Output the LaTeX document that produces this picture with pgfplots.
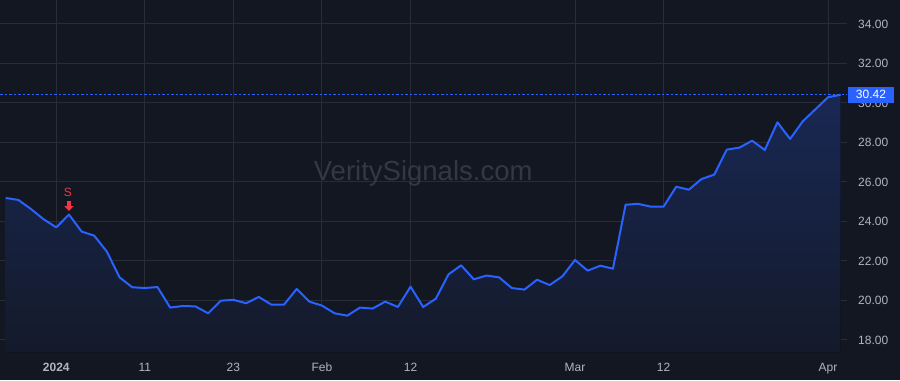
\documentclass[border=0pt]{standalone}
\usepackage{pgfplots}
\pgfplotsset{compat=1.18}
\usepgfplotslibrary{fillbetween}
\usetikzlibrary{arrows.meta}
\usepackage{fontspec}
\setmainfont{Liberation Sans}
\definecolor{bg}{RGB}{19,23,34}
\definecolor{gridc}{RGB}{40,44,56}
\definecolor{tvblue}{RGB}{41,98,255}
\definecolor{txt}{RGB}{178,181,190}
\definecolor{tvred}{RGB}{242,54,69}
\definecolor{areatop}{RGB}{25,40,84}
\definecolor{areabot}{RGB}{20,26,42}
\definecolor{wm}{RGB}{52,56,68}

\pgfplotstableread{
i v
-4 25.19
-3 25.09
-2 24.63
-1 24.11
0 23.70
1 24.35
2 23.49
3 23.28
4 22.47
5 21.17
6 20.67
7 20.63
8 20.68
9 19.64
10 19.72
11 19.70
12 19.35
13 19.99
14 20.03
15 19.86
16 20.18
17 19.79
18 19.79
19 20.58
20 19.94
21 19.74
22 19.35
23 19.23
24 19.64
25 19.59
26 19.94
27 19.67
28 20.70
29 19.67
30 20.09
31 21.32
32 21.78
33 21.07
34 21.26
35 21.17
36 20.63
37 20.55
38 21.05
39 20.78
40 21.22
41 22.05
42 21.51
43 21.76
44 21.61
45 24.85
46 24.89
47 24.75
48 24.75
49 25.76
50 25.61
51 26.15
52 26.37
53 27.64
54 27.74
55 28.09
56 27.62
57 29.02
58 28.18
59 29.07
60 29.68
61 30.29
62 30.42
}\pricedata

\begin{document}
\pagecolor{bg}%
\begin{tikzpicture}[x=1bp,y=1bp]
\begin{axis}[
  at={(0,0)}, anchor=south west,
  width=847bp, height=352bp, scale only axis,
  xmin=-4.45, xmax=62.5, ymin=17.39, ymax=35.215,
  axis line style={draw=none},
  clip mode=individual,
  xtick={0,7,14,21,28,41,48,61},
  xticklabels={\textbf{2024},11,23,Feb,12,Mar,12,Apr},
  ytick={18,20,...,34},
  yticklabel pos=right,
  yticklabel={\pgfmathprintnumber[fixed,fixed zerofill,precision=2]{\tick}},
  /pgf/number format/assume math mode=true,
  grid=major,
  major grid style={draw=gridc, line width=1bp},
  major tick length=0pt,
  tick label style={font=\fontsize{12bp}{14bp}\selectfont, text=txt, inner sep=0pt},
  xticklabel style={anchor=base, yshift=-19bp},
  yticklabel style={anchor=base west, xshift=11bp, yshift=-4.3bp},
]
\addplot[name path=price, draw=none, forget plot] table[x=i, y=v] {\pricedata};
\addplot[name path=base, draw=none, forget plot] coordinates {(-4,17.39) (62,17.39)};
\addplot[top color=areatop, bottom color=areabot, draw=none] fill between[of=price and base];

\node[anchor=base, text=wm, font=\fontsize{27.5bp}{30bp}\selectfont] at (axis cs:29,26.073) {VeritySignals.com};

\addplot[tvblue, line width=1bp, dash pattern=on 2.5bp off 2bp] coordinates {(-4.45,30.42) (62.5,30.42)};
\addplot[tvblue, line width=2bp, line join=round] table[x=i, y=v] {\pricedata};

\node[text=tvred, font=\fontsize{12bp}{14bp}\selectfont, inner sep=0pt] at (axis cs:0.92,25.49) {S};
\draw[tvred, line width=3.2bp, -{Triangle[width=9bp,length=5bp]}] (axis cs:1,25.06) -- (axis cs:1,24.53);

\node[fill=tvblue, text=white, font=\fontsize{12bp}{14bp}\selectfont, inner sep=0pt,
      minimum width=45.5bp, minimum height=16.3bp, anchor=west, xshift=1bp] at (axis cs:62.5,30.42) {30.42};
\end{axis}
\pgfresetboundingbox
\useasboundingbox (0,-28) rectangle (900,352);
\end{tikzpicture}
\end{document}
